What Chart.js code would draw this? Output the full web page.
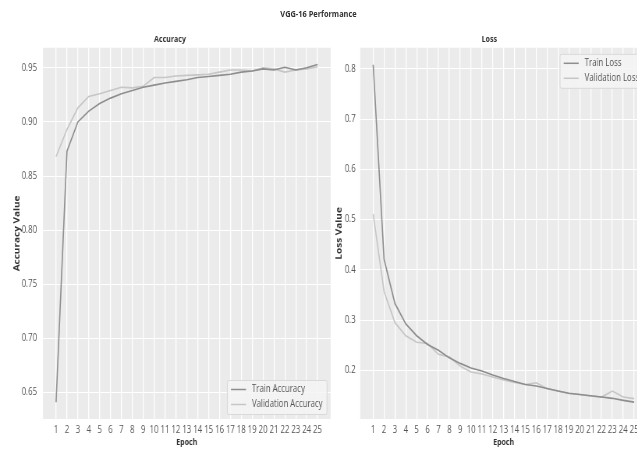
<!DOCTYPE html>
<html><head><meta charset="utf-8">
<script src="https://cdn.jsdelivr.net/npm/chart.js@4.4.1/dist/chart.umd.min.js"></script>
<style>
html,body{margin:0;padding:0;background:#fff;overflow:hidden;width:637px;height:450px;}
#fig{position:absolute;left:0;top:0;height:450px;transform-origin:0 0;}
#sup{position:absolute;left:0;top:7px;text-align:center;font:bold 9.5px 'Open Sans','Noto Sans',sans-serif;color:#333;line-height:13px;}
.w{position:absolute;top:0;height:450px;}
</style></head>
<body>
<div id="fig">
<div id="sup">VGG-16 Performance</div>
<div class="w" id="w1"><canvas id="c1"></canvas></div>
<div class="w" id="w2"><canvas id="c2"></canvas></div>
</div>
<script>
const epochs = [1,2,3,4,5,6,7,8,9,10,11,12,13,14,15,16,17,18,19,20,21,22,23,24,25];
const trainAcc = [0.641,0.873,0.900,0.910,0.917,0.922,0.926,0.929,0.932,0.934,0.936,0.9375,0.939,0.941,0.942,0.943,0.944,0.946,0.947,0.949,0.948,0.9505,0.948,0.950,0.953];
const valAcc = [0.868,0.893,0.913,0.9235,0.926,0.929,0.932,0.9315,0.933,0.941,0.941,0.9425,0.943,0.9435,0.944,0.946,0.948,0.948,0.947,0.950,0.949,0.946,0.948,0.949,0.951];
const trainLoss = [0.808,0.421,0.333,0.2925,0.269,0.2515,0.240,0.225,0.214,0.205,0.199,0.191,0.184,0.178,0.172,0.169,0.164,0.159,0.1545,0.152,0.1495,0.147,0.1445,0.1405,0.137];
const valLoss = [0.511,0.357,0.295,0.269,0.256,0.2535,0.232,0.227,0.2085,0.197,0.193,0.187,0.181,0.176,0.172,0.1755,0.1635,0.159,0.154,0.152,0.149,0.147,0.159,0.147,0.144];
const accTicks = [0.65,0.70,0.75,0.80,0.85,0.90,0.95];
const lossTicks = [0.2,0.3,0.4,0.5,0.6,0.7,0.8];
const accNames = ['Train Accuracy','Validation Accuracy'];
const lossNames = ['Train Loss','Validation Loss'];

// the reference uses a narrow-looking face: draw with a horizontal squeeze
const SX = 0.78;
const u = px => px / SX;
const FONT = "'Open Sans','Noto Sans',sans-serif";
Chart.defaults.font.family = FONT;
Chart.defaults.color = '#555';
const TRAIN_C = '#8e8e8e', VAL_C = '#c6c6c6';

const fig = document.getElementById('fig');
fig.style.width = u(637) + 'px';
fig.style.transform = 'scaleX(' + SX + ')';
const sup = document.getElementById('sup');
sup.style.width = u(637) + 'px';

const bgPlugin = {
  id:'bg',
  beforeDraw(chart){
    const a = chart.chartArea, ctx = chart.ctx;
    ctx.save(); ctx.fillStyle = '#ebebeb';
    ctx.fillRect(a.left, a.top, a.right-a.left, a.bottom-a.top);
    ctx.restore();
  }
};
const boxLegend = {
  id:'boxLegend',
  afterDatasetsDraw(chart, args, opts){
    const ctx = chart.ctx, a = chart.chartArea;
    const ds = chart.data.datasets;
    ctx.save();
    ctx.font = '10px ' + FONT;
    let tw = 0; ds.forEach(d => tw = Math.max(tw, ctx.measureText(d.label).width));
    const w = u(4) + u(15) + u(6) + tw + u(4), rowH = 15, h = ds.length*rowH + 4;
    const x = a.right - u(4) - w;
    const y = opts.corner === 'br' ? a.bottom - 5 - h : a.top + 6;
    ctx.fillStyle = 'rgba(244,244,244,0.85)';
    ctx.strokeStyle = '#d9d9d9'; ctx.lineWidth = 1;
    ctx.beginPath();
    if (ctx.roundRect) ctx.roundRect(x+0.5, y+0.5, w, h, 2); else ctx.rect(x+0.5,y+0.5,w,h);
    ctx.fill(); ctx.stroke();
    ds.forEach((d,i) => {
      const cy = y + 2 + rowH*i + rowH/2;
      ctx.strokeStyle = d.borderColor; ctx.lineWidth = 1.5;
      ctx.beginPath(); ctx.moveTo(x+u(4), cy); ctx.lineTo(x+u(19), cy); ctx.stroke();
      ctx.fillStyle = '#555'; ctx.textBaseline = 'middle'; ctx.textAlign = 'left';
      ctx.fillText(d.label, x+u(25), cy);
    });
    ctx.restore();
  }
};

function mk(id, wrap, absLeft, absWidth, absPlotLeft, absPlotRight, title, ytitle, names, tr, va, ymin, ymax, yticks, dec, tickPadAbs, corner){
  const W = u(absWidth);
  const wEl = document.getElementById(wrap);
  wEl.style.left = u(absLeft) + 'px'; wEl.style.width = W + 'px';
  const cv = document.getElementById(id);
  cv.width = Math.round(W); cv.height = 450;
  const PL = 12;
  const yWidth = u(absPlotLeft - absLeft) - PL;
  const PR = Math.round(W) - u(absPlotRight - absLeft);
  return new Chart(cv, {
    type:'line',
    data:{datasets:[
      {label:names[0], data:epochs.map((e,i)=>({x:e,y:tr[i]})), borderColor:TRAIN_C, borderWidth:1.6, pointRadius:0, tension:0, fill:false},
      {label:names[1], data:epochs.map((e,i)=>({x:e,y:va[i]})), borderColor:VAL_C, borderWidth:1.6, pointRadius:0, tension:0, fill:false}
    ]},
    options:{
      responsive:false, animation:false, devicePixelRatio:1,
      layout:{padding:{left:PL,right:PR,top:32,bottom:2}},
      plugins:{
        legend:{display:false}, tooltip:{enabled:false},
        title:{display:true, text:title, color:'#333', font:{size:9, weight:'bold'}, padding:{top:2,bottom:3}},
        boxLegend:{corner:corner}
      },
      scales:{
        x:{type:'linear', min:-0.2, max:26.2,
           afterBuildTicks:s=>{ s.ticks = epochs.map(v=>({value:v})); },
           ticks:{autoSkip:false, maxRotation:0, minRotation:0, padding:5, color:'#555', font:{size:10}, callback:v=>String(v)},
           grid:{color:'#ffffff', lineWidth:1.3, drawTicks:false}, border:{display:false},
           title:{display:true, text:'Epoch', color:'#333', font:{size:9, weight:'bold'}, padding:{top:0,bottom:0}},
           afterFit:s=>{ s.height = 29; }},
        y:{type:'linear', min:ymin, max:ymax,
           afterBuildTicks:s=>{ s.ticks = yticks.map(v=>({value:v})); },
           ticks:{padding:u(tickPadAbs), color:'#555', font:{size:10}, callback:v=>Number(v).toFixed(dec)},
           grid:{color:'#ffffff', lineWidth:1, drawTicks:false}, border:{display:false},
           title:{display:true, text:ytitle, color:'#333', font:{size:10, weight:'bold'}, padding:{top:4,bottom:0}},
           afterFit:s=>{ s.width = yWidth; }}
      }
    },
    plugins:[bgPlugin, boxLegend]
  });
}
mk('c1','w1',0,340,43,330.6,'Accuracy','Accuracy Value',accNames,trainAcc,valAcc,0.6255,0.9685,accTicks,2,6,'br');
mk('c2','w2',322,333,360,647,'Loss','Loss Value',lossNames,trainLoss,valLoss,0.1034,0.8416,lossTicks,1,4.5,'tr');
</script>
</body></html>
